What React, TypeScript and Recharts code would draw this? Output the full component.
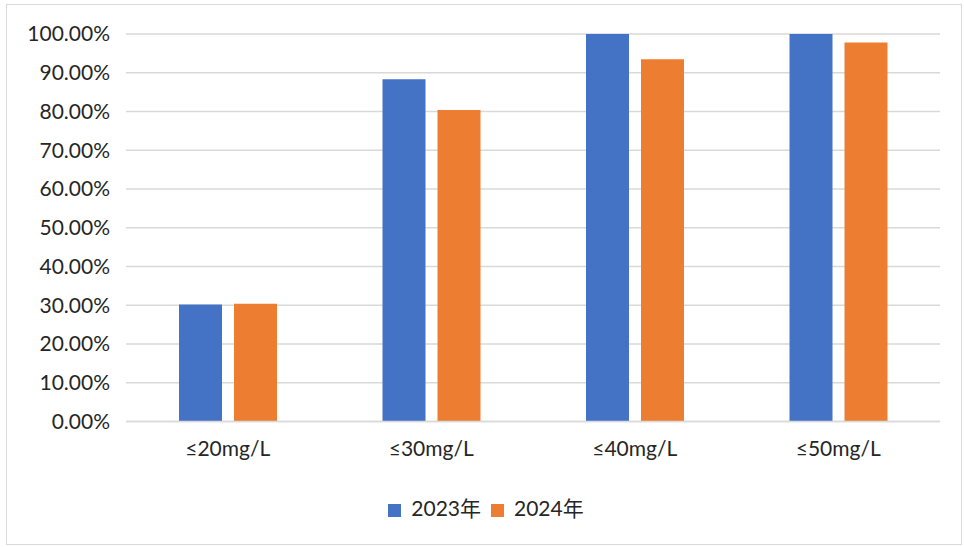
import { BarChart, Bar, XAxis, YAxis, CartesianGrid, Legend } from "recharts";

const categories = ["≤20mg/L", "≤30mg/L", "≤40mg/L", "≤50mg/L"];
const values2023 = [30.2, 88.3, 100, 100];
const values2024 = [30.4, 80.4, 93.5, 97.8];
const yTicks = [0, 10, 20, 30, 40, 50, 60, 70, 80, 90, 100];

const data = categories.map((name, i) => ({
  name,
  y2023: values2023[i],
  y2024: values2024[i],
}));

const FONT = "Lato, 'Noto Sans CJK SC', sans-serif";
const TEXT = "#262626";
const GRID = "#d9d9d9";

export default function App() {
  return (
    <div
      style={{
        position: "absolute",
        left: 0,
        top: 0,
        width: 964,
        height: 547,
        background: "#fff",
        fontFamily: FONT,
      }}
    >
      <div
        style={{
          position: "absolute",
          left: 6,
          top: 4,
          width: 956,
          height: 541,
          border: `1.5px solid ${GRID}`,
          boxSizing: "border-box",
        }}
      />
      <BarChart
        width={964}
        height={547}
        data={data}
        margin={{ top: 34, right: 24, left: 0, bottom: 0 }}
        barSize={43}
        barGap={12}
      >
        <CartesianGrid vertical={false} stroke={GRID} strokeWidth={1.5} />
        <XAxis
          dataKey="name"
          height={125.5}
          axisLine={{ stroke: GRID, strokeWidth: 1.5 }}
          tickLine={false}
          tickSize={0}
          tickMargin={20}
          tick={{ fill: TEXT, fontSize: 21, fontFamily: FONT }}
        />
        <YAxis
          width={126}
          domain={[0, 100]}
          ticks={yTicks}
          interval={0}
          axisLine={false}
          tickLine={false}
          tickSize={0}
          tickMargin={16}
          tickFormatter={(v: number) => `${v.toFixed(2)}%`}
          tick={{ fill: TEXT, fontSize: 21, fontFamily: FONT }}
        />
        <Legend
          verticalAlign="middle"
          align="center"
          layout="horizontal"
          iconType="square"
          iconSize={13}
          wrapperStyle={{ top: 492, left: 9, width: 964, fontSize: 21, fontFamily: FONT }}
          formatter={(value: string) => (
            <span style={{ color: TEXT, marginLeft: 6 }}>{value}</span>
          )}
        />
        <Bar dataKey="y2023" name="2023年" fill="#4472C4" isAnimationActive={false} />
        <Bar dataKey="y2024" name="2024年" fill="#ED7D31" isAnimationActive={false} />
      </BarChart>
    </div>
  );
}
